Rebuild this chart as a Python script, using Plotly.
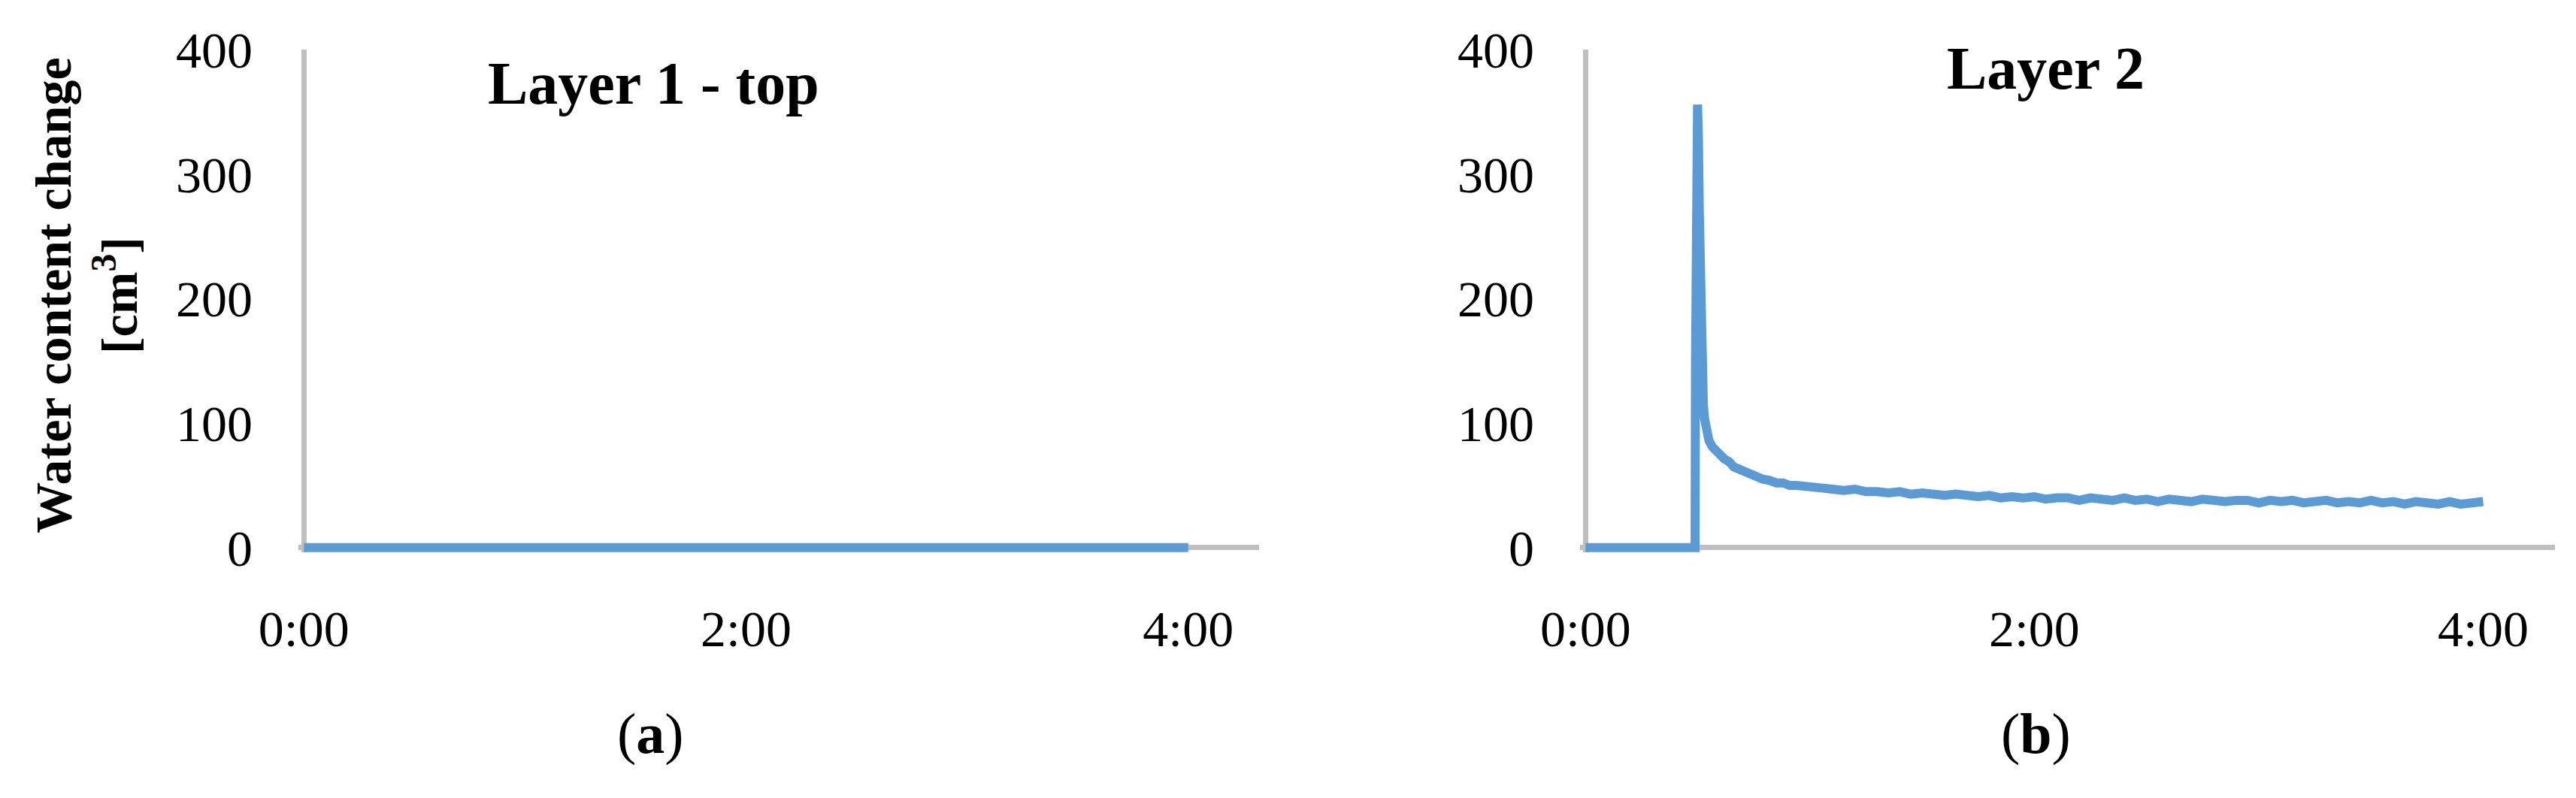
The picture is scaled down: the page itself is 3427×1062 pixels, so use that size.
import plotly.graph_objects as go
from plotly.subplots import make_subplots

# time in hours since start, water content change in cm3
layer1_time = [0.0, 4.0]
layer1_value = [0, 0]

layer2_time = [0.00, 0.488, 0.490, 0.495, 0.499, 0.503, 0.507, 0.511, 0.515, 0.520, 0.525, 0.530, 0.540,
               0.550, 0.565, 0.580, 0.600, 0.620, 0.640, 0.660, 0.685, 0.710, 0.735, 0.760, 0.790,
               0.820, 0.850, 0.880, 0.910, 0.940, 0.970, 1.000, 1.050, 1.100, 1.150, 1.200, 1.250,
               1.30, 1.35, 1.40, 1.45, 1.50, 1.55, 1.60, 1.65, 1.70, 1.75, 1.80, 1.85, 1.90, 1.95,
               2.00, 2.05, 2.10, 2.15, 2.20, 2.25, 2.30, 2.35, 2.40, 2.45, 2.50, 2.55, 2.60, 2.65,
               2.70, 2.75, 2.80, 2.85, 2.90, 2.95, 3.00, 3.05, 3.10, 3.15, 3.20, 3.25, 3.30, 3.35,
               3.40, 3.45, 3.50, 3.55, 3.60, 3.65, 3.70, 3.75, 3.80, 3.85, 3.90, 3.95, 4.00]
layer2_value = [0, 0, 150, 300, 356, 330, 270, 210, 165, 135, 115, 104, 94,
                86, 81, 78, 74, 71, 69, 65, 63, 61, 58, 57, 55,
                54, 52, 52, 50, 50, 49, 48, 48, 47, 46, 47, 45,
                45, 44, 45, 43, 44, 43, 42, 43, 42, 41, 42, 40, 41, 40,
                41, 39, 40, 40, 38, 40, 39, 38, 40, 38, 39, 37, 39, 38,
                37, 39, 38, 37, 38, 38, 36, 38, 37, 38, 36, 37, 38, 36,
                37, 36, 38, 36, 37, 35, 37, 36, 35, 37, 35, 36, 37]

x_tickvals = [0, 2, 4]
x_ticktext = ["0:00", "2:00", "4:00"]
y_tickvals = [0, 100, 200, 300, 400]

panel_titles = ["Layer 1 - top", "Layer 2"]
panel_labels = ["(<b>a</b>)", "(<b>b</b>)"]
y_title = "Water content change<br>[cm<sup>3</sup>]"

LINE_COLOR = "#5B9BD5"
AXIS_COLOR = "#BFBFBF"
FONT = "Liberation Serif"

fig = make_subplots(rows=1, cols=2)

fig.add_trace(go.Scatter(x=layer1_time, y=layer1_value, mode="lines",
                         line=dict(color=LINE_COLOR, width=12)), row=1, col=1)
fig.add_trace(go.Scatter(x=layer2_time, y=layer2_value, mode="lines",
                         line=dict(color=LINE_COLOR, width=12)), row=1, col=2)

axis_common = dict(showgrid=False, showline=False, zeroline=True, automargin=False,
                   zerolinecolor=AXIS_COLOR, zerolinewidth=7, ticks="",
                   tickfont=dict(family=FONT, size=68, color="black"))

fig.update_xaxes(range=[-0.025, 4.32], tickvals=x_tickvals, ticktext=x_ticktext,
                 ticklabelstandoff=56, **axis_common)
fig.update_yaxes(range=[-4, 400], tickvals=y_tickvals,
                 ticklabelstandoff=60, **axis_common)

fig.update_layout(
    width=3427, height=1062,
    margin=dict(l=0, r=0, t=0, b=0),
    plot_bgcolor="white", paper_bgcolor="white",
    showlegend=False,
    xaxis=dict(domain=[0.1135, 0.4864]),
    xaxis2=dict(domain=[0.6110, 0.9895]),
    yaxis=dict(domain=[0.3150, 0.9450]),
    yaxis2=dict(domain=[0.3150, 0.9450]),
)

title_pos = [(0.2515, 0.903), (0.7917, 0.922)]
label_pos = [(0.2501, 0.088), (0.7879, 0.088)]
for i in range(2):
    fig.add_annotation(text="<b>" + panel_titles[i] + "</b>", xref="paper", yref="paper",
                       x=title_pos[i][0], y=title_pos[i][1], showarrow=False,
                       xanchor="center", yanchor="middle",
                       font=dict(family=FONT, size=80, color="black"))
    fig.add_annotation(text=panel_labels[i], xref="paper", yref="paper",
                       x=label_pos[i][0], y=label_pos[i][1], showarrow=False,
                       xanchor="center", yanchor="middle",
                       font=dict(family=FONT, size=76, color="black"))

fig.add_annotation(text="<b>" + y_title + "</b>", xref="paper", yref="paper",
                   x=0.031, y=0.637, showarrow=False, textangle=-90,
                   xanchor="center", yanchor="middle",
                   font=dict(family=FONT, size=68, color="black"))

fig.write_html("out.html")
